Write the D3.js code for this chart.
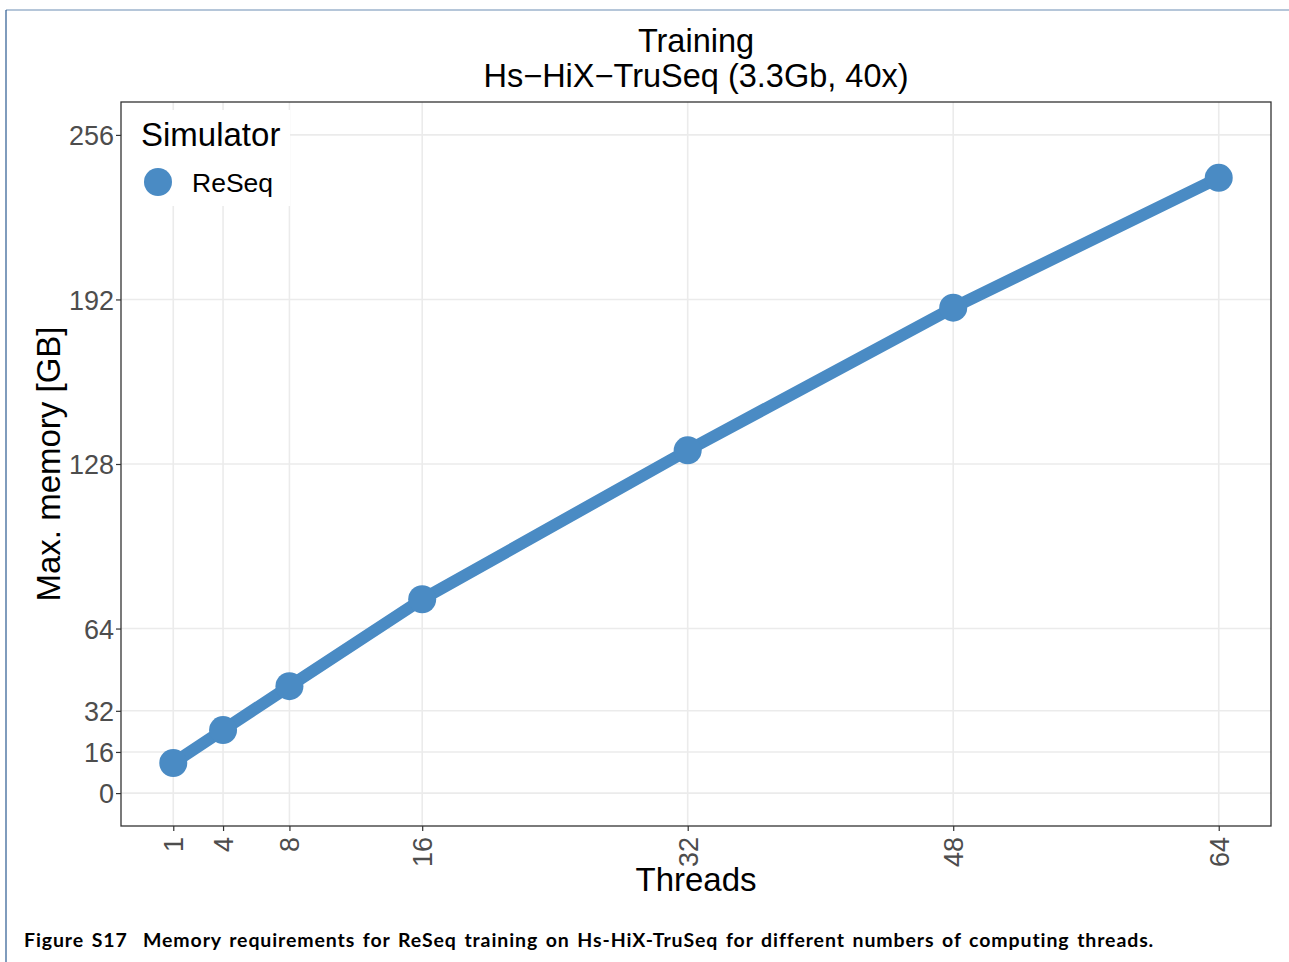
<!DOCTYPE html>
<script src="https://cdn.jsdelivr.net/npm/d3@7/dist/d3.min.js"></script>
<style>
    body { margin: 0; background: #fff; }
    svg text { font-family: "Liberation Sans", Arial, sans-serif; }
</style>
<svg id="chart" width="1289" height="962"></svg>
<script>
    // data
    var threads = [1, 4, 8, 16, 32, 48, 64];
    var memory = [11.7, 24.5, 41.6, 75.4, 133.3, 188.8, 239.3];
    var xTicks = [1, 4, 8, 16, 32, 48, 64];
    var yTicks = [0, 16, 32, 64, 128, 192, 256];
    var seriesName = "ReSeq";

    var svg = d3.select("#chart"),
        margin = {top: 102, right: 18, bottom: 136, left: 121},
        width = +svg.attr("width") - margin.left - margin.right,
        height = +svg.attr("height") - margin.top - margin.bottom;

    var data = threads.map(function(t, i) { return {t: t, m: memory[i]}; });

    // ggplot-style 5% expansion
    var xr = d3.extent(threads), xe = (xr[1] - xr[0]) * 0.05;
    var x = d3.scaleLinear().domain([xr[0] - xe, xr[1] + xe]).range([0, width]);
    var yr = [0, 256], ye = (yr[1] - yr[0]) * 0.05;
    var y = d3.scaleLinear().domain([yr[0] - ye, yr[1] + ye]).range([height, 0]);

    // page frame
    svg.append("line").attr("x1", 6).attr("x2", 1289).attr("y1", 10).attr("y2", 10)
        .attr("stroke", "#6d8db3").attr("stroke-width", 1.2);
    svg.append("line").attr("x1", 6).attr("x2", 6).attr("y1", 10).attr("y2", 962)
        .attr("stroke", "#2b5a90").attr("stroke-width", 1.2);

    var g = svg.append("g").attr("transform", "translate(" + margin.left + "," + margin.top + ")");

    // grid
    g.selectAll(".gx").data(xTicks).enter().append("line")
        .attr("x1", d => x(d)).attr("x2", d => x(d))
        .attr("y1", 0).attr("y2", height)
        .attr("stroke", "#ebebeb").attr("stroke-width", 1.6);
    g.selectAll(".gy").data(yTicks).enter().append("line")
        .attr("x1", 0).attr("x2", width)
        .attr("y1", d => y(d)).attr("y2", d => y(d))
        .attr("stroke", "#ebebeb").attr("stroke-width", 1.6);

    // axes
    var xAxis = g.append("g")
        .attr("transform", "translate(0," + height + ")")
        .call(d3.axisBottom(x).tickValues(xTicks).tickSize(5).tickSizeOuter(0));
    xAxis.select(".domain").remove();
    xAxis.selectAll("line").attr("stroke", "#333").attr("stroke-width", 1.2);
    xAxis.selectAll("text")
        .attr("transform", "rotate(-90)")
        .attr("x", -11).attr("y", 0).attr("dy", "0.35em")
        .attr("text-anchor", "end")
        .attr("fill", "#4d4d4d")
        .style("font-size", "27px");

    var yAxis = g.append("g")
        .call(d3.axisLeft(y).tickValues(yTicks).tickSize(5).tickSizeOuter(0).tickPadding(2));
    yAxis.select(".domain").remove();
    yAxis.selectAll("line").attr("stroke", "#333").attr("stroke-width", 1.2);
    yAxis.selectAll("text")
        .attr("fill", "#4d4d4d")
        .attr("dy", "0.36em")
        .style("font-size", "27px");

    // line and points
    var line = d3.line().x(d => x(d.t)).y(d => y(d.m));
    g.append("path")
        .datum(data)
        .attr("fill", "none")
        .attr("stroke", "#4a8bc4")
        .attr("stroke-width", 12)
        .attr("stroke-linejoin", "round")
        .attr("d", line);
    g.selectAll(".pt").data(data).enter().append("circle")
        .attr("cx", d => x(d.t)).attr("cy", d => y(d.m))
        .attr("r", 14)
        .attr("fill", "#4a8bc4");

    // panel border
    g.append("rect")
        .attr("width", width).attr("height", height)
        .attr("fill", "none").attr("stroke", "#333").attr("stroke-width", 1.3);

    // legend inside panel
    var lg = g.append("g");
    lg.append("rect").attr("x", 1).attr("y", 8).attr("width", 168).attr("height", 96).attr("fill", "#fff");
    lg.append("text").attr("x", 20).attr("y", 44).text("Simulator")
        .style("font-size", "33px").attr("fill", "#000");
    lg.append("circle").attr("cx", 37).attr("cy", 80).attr("r", 14).attr("fill", "#4a8bc4");
    lg.append("text").attr("x", 71).attr("y", 90).text(seriesName)
        .style("font-size", "26.5px").attr("fill", "#000");

    // titles
    svg.append("text").attr("x", 696).attr("y", 52).attr("text-anchor", "middle")
        .style("font-size", "32.5px").text("Training");
    svg.append("text").attr("x", 696).attr("y", 87).attr("text-anchor", "middle")
        .style("font-size", "32.5px").text("Hs\u2212HiX\u2212TruSeq (3.3Gb, 40x)");
    svg.append("text").attr("x", margin.left + width / 2).attr("y", 891).attr("text-anchor", "middle")
        .style("font-size", "33px").text("Threads");
    svg.append("text")
        .attr("transform", "translate(60," + (margin.top + height / 2) + ") rotate(-90)")
        .attr("text-anchor", "middle")
        .style("font-size", "33px").text("Max. memory [GB]");

    // caption
    svg.append("text").attr("x", 24).attr("y", 947)
        .style("font-family", "Lato, sans-serif").style("font-weight", "bold").style("font-size", "19.5px")
        .style("letter-spacing", "0.9px").style("word-spacing", "2px")
        .attr("xml:space", "preserve")
        .text("Figure S17  Memory requirements for ReSeq training on Hs-HiX-TruSeq for different numbers of computing threads.");
</script>
